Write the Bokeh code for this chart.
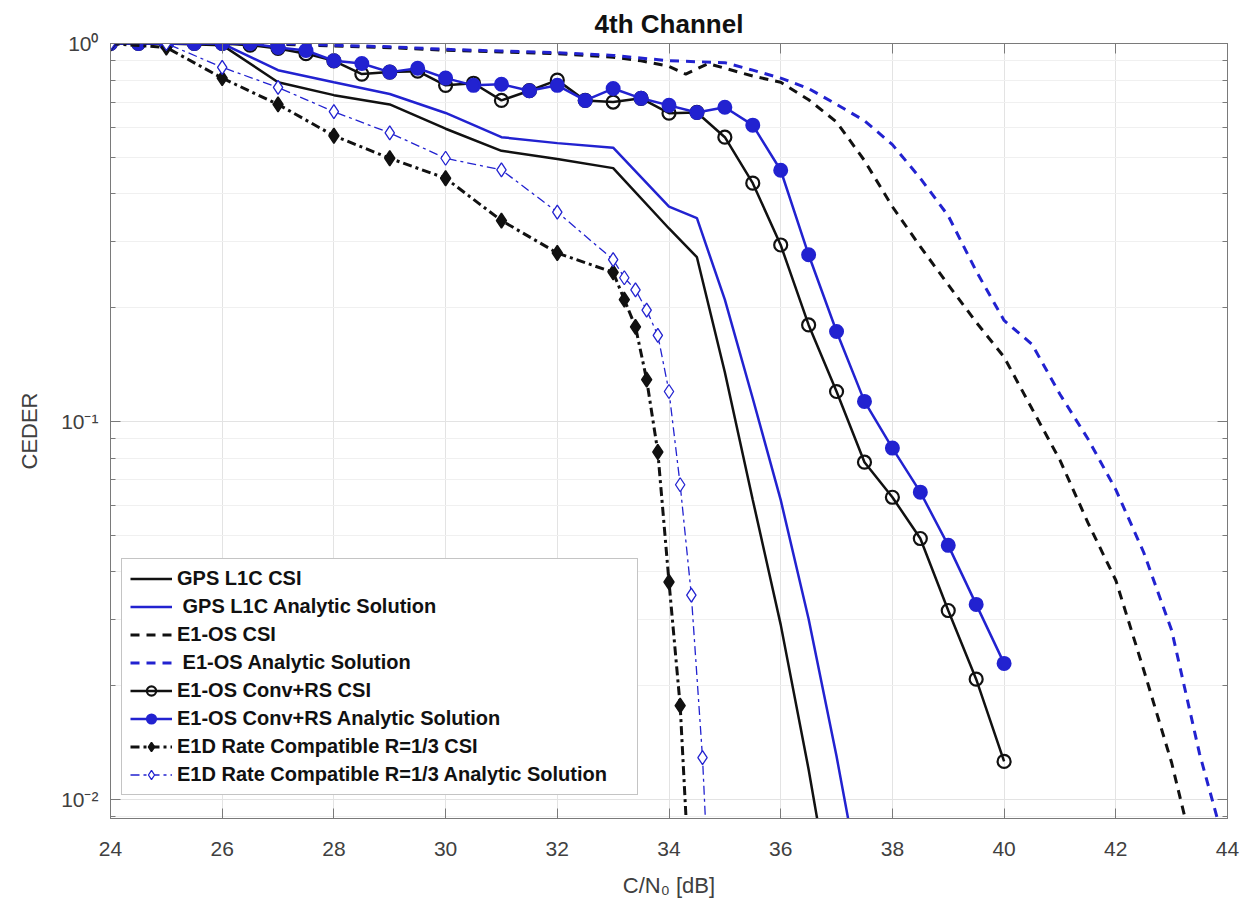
from bokeh.plotting import figure
from bokeh.models import (FixedTicker, LinearAxis, LogAxis, Legend, LegendItem,
                          CustomJSTickFormatter, Range1d)
from bokeh.embed import file_html
from bokeh.resources import INLINE

# ---------------- data ----------------
gps_csi_x = [24, 25, 26, 27, 28, 29, 30, 31, 32, 33, 34, 34.5, 35, 35.5, 36, 36.5, 37]
gps_csi_y = [1.0, 1.0, 0.99, 0.79, 0.73, 0.69, 0.595, 0.52, 0.495, 0.468, 0.324, 0.272,
             0.135, 0.062, 0.029, 0.012, 0.0045]

gps_an_x = [24, 25, 26, 27, 28, 29, 30, 31, 32, 33, 34, 34.5, 35, 35.5, 36, 36.5, 37, 37.5]
gps_an_y = [1.0, 1.0, 1.0, 0.85, 0.79, 0.735, 0.655, 0.565, 0.545, 0.53, 0.37, 0.345,
            0.21, 0.115, 0.062, 0.03, 0.013, 0.0052]

e1os_csi_x = [24, 25, 26, 27, 28, 29, 30, 31, 32, 33, 33.5, 34, 34.3, 34.7, 35, 35.5, 36,
              36.5, 37, 37.5, 38, 38.5, 39, 39.5, 40, 40.5, 41, 41.5, 42, 42.5, 43, 43.5]
e1os_csi_y = [1.0, 1.0, 1.0, 0.995, 0.985, 0.975, 0.96, 0.95, 0.94, 0.92, 0.90, 0.87, 0.83,
              0.885, 0.86, 0.82, 0.79, 0.71, 0.62, 0.49, 0.37, 0.29, 0.23, 0.183, 0.148,
              0.108, 0.079, 0.054, 0.038, 0.022, 0.0125, 0.0062]

e1os_an_x = [24, 25, 26, 27, 28, 29, 30, 31, 32, 33, 34, 34.5, 35, 35.5, 36, 36.5, 37, 37.5,
             38, 38.5, 39, 39.5, 40, 40.5, 41, 41.5, 42, 42.5, 43, 43.5, 44]
e1os_an_y = [1.0, 1.0, 1.0, 1.0, 0.99, 0.98, 0.965, 0.955, 0.945, 0.93, 0.90, 0.895, 0.89,
             0.85, 0.81, 0.76, 0.69, 0.625, 0.54, 0.44, 0.35, 0.25, 0.185, 0.16, 0.118,
             0.09, 0.066, 0.045, 0.028, 0.0132, 0.0071]

conv_x = [24, 24.5, 25, 25.5, 26, 26.5, 27, 27.5, 28, 28.5, 29, 29.5, 30, 30.5, 31, 31.5,
          32, 32.5, 33, 33.5, 34, 34.5, 35, 35.5, 36, 36.5, 37, 37.5, 38, 38.5, 39, 39.5, 40]
conv_csi_y = [1.0, 1.0, 1.0, 1.0, 1.0, 0.99, 0.97, 0.94, 0.90, 0.83, 0.84, 0.845, 0.775,
              0.785, 0.707, 0.75, 0.80, 0.707, 0.70, 0.716, 0.654, 0.657, 0.565, 0.427,
              0.293, 0.18, 0.12, 0.078, 0.063, 0.049, 0.0316, 0.0208, 0.0126]
conv_an_y = [1.0, 1.0, 1.0, 1.0, 1.0, 1.0, 0.976, 0.958, 0.90, 0.885, 0.84, 0.86, 0.81,
             0.775, 0.78, 0.75, 0.775, 0.707, 0.76, 0.716, 0.686, 0.657, 0.678, 0.608,
             0.462, 0.276, 0.173, 0.113, 0.085, 0.065, 0.047, 0.0328, 0.0229]

e1d_csi_x = [24, 25, 26, 27, 28, 29, 30, 31, 32, 33, 33.2, 33.4, 33.6, 33.8, 34, 34.2, 34.4]
e1d_csi_y = [1.0, 0.976, 0.81, 0.69, 0.57, 0.497, 0.44, 0.34, 0.279, 0.248, 0.21, 0.178,
             0.129, 0.083, 0.0376, 0.0177, 0.0048]

e1d_an_x = [24, 25, 26, 27, 28, 29, 30, 31, 32, 33, 33.2, 33.4, 33.6, 33.8, 34, 34.2, 34.4,
            34.6, 34.8]
e1d_an_y = [1.0, 1.0, 0.865, 0.765, 0.66, 0.58, 0.497, 0.463, 0.358, 0.268, 0.24, 0.223,
            0.197, 0.169, 0.12, 0.068, 0.0347, 0.0129, 0.003]

x_ticks = [24, 26, 28, 30, 32, 34, 36, 38, 40, 42, 44]
y_ticks = [0.01, 0.1, 1.0]
y_minor = [m * d for d in (0.001, 0.01, 0.1) for m in range(2, 10)]

labels = ["GPS L1C CSI", " GPS L1C Analytic Solution", "E1-OS CSI", " E1-OS Analytic Solution",
          "E1-OS Conv+RS CSI", "E1-OS Conv+RS Analytic Solution",
          "E1D Rate Compatible R=1/3 CSI", "E1D Rate Compatible R=1/3 Analytic Solution"]

# ---------------- styling ----------------
BLACK = "#111111"
BLUE = "#2222d0"
FONT = "Liberation Sans"
TICK_COL = "#404040"
AX_COL = "#7a7a7a"

p = figure(width=1241, height=909, x_range=Range1d(24, 44), y_range=Range1d(0.0089, 1.0),
           y_axis_type="log", output_backend="svg", toolbar_location=None,
           min_border_left=110, min_border_right=14, min_border_top=43, min_border_bottom=91,
           title="4th Channel", background_fill_color="white", border_fill_color="white")

p.title.text_font = FONT
p.title.text_font_size = "26px"
p.title.text_font_style = "bold"
p.title.align = "center"
p.title.text_color = "#111111"

p.outline_line_color = AX_COL
p.outline_line_width = 1

xt = FixedTicker(ticks=x_ticks)
yt = FixedTicker(ticks=y_ticks, minor_ticks=y_minor)

yfmt = CustomJSTickFormatter(code="""
const e = Math.round(Math.log10(tick));
const m = {"0": "\u2070", "1": "\u00b9", "2": "\u00b2", "-": "\u207b"};
return "10" + String(e).split("").map(c => m[c]).join("");
""")

for ax in p.xaxis:
    ax.ticker = xt
    ax.major_tick_in = 10
    ax.major_tick_out = 0
    ax.minor_tick_in = 0
    ax.minor_tick_out = 0
    ax.axis_line_color = AX_COL
    ax.major_tick_line_color = AX_COL
    ax.major_label_text_font = FONT
    ax.major_label_text_font_size = "21px"
    ax.major_label_text_color = TICK_COL
    ax.major_label_standoff = 23
    ax.axis_label = "C/N\u2080 [dB]"
    ax.axis_label_text_font = FONT
    ax.axis_label_text_font_size = "22px"
    ax.axis_label_text_font_style = "normal"
    ax.axis_label_text_color = TICK_COL
    ax.axis_label_standoff = 14

for ax in p.yaxis:
    ax.ticker = yt
    ax.formatter = yfmt
    ax.major_tick_in = 10
    ax.major_tick_out = 0
    ax.minor_tick_in = 5
    ax.minor_tick_out = 0
    ax.axis_line_color = AX_COL
    ax.major_tick_line_color = AX_COL
    ax.minor_tick_line_color = AX_COL
    ax.major_label_text_font = FONT
    ax.major_label_text_font_size = "21px"
    ax.major_label_text_color = TICK_COL
    ax.major_label_standoff = 12
    ax.axis_label = "CEDER"
    ax.axis_label_text_font = FONT
    ax.axis_label_text_font_size = "22px"
    ax.axis_label_text_font_style = "normal"
    ax.axis_label_text_color = TICK_COL
    ax.axis_label_standoff = 16

# box ticks on the top and right sides (labels hidden)
top_ax = LinearAxis(ticker=xt, major_tick_in=10, major_tick_out=0, minor_tick_in=0,
                    minor_tick_out=0, major_label_text_font_size="1px",
                    major_label_text_color=None, axis_line_color=AX_COL,
                    major_tick_line_color=AX_COL, major_label_standoff=0)
right_ax = LogAxis(ticker=yt, major_tick_in=10, major_tick_out=0, minor_tick_in=5,
                   minor_tick_out=0, major_label_text_font_size="1px",
                   major_label_text_color=None, axis_line_color=AX_COL,
                   major_tick_line_color=AX_COL, minor_tick_line_color=AX_COL,
                   major_label_standoff=0)
p.add_layout(top_ax, "above")
p.add_layout(right_ax, "right")

p.xgrid.ticker = xt
p.xgrid.grid_line_color = "#e3e3e3"
p.ygrid.ticker = yt
p.ygrid.grid_line_color = "#e3e3e3"
p.ygrid.minor_grid_line_color = "#f0f0f0"

# ---------------- series ----------------
r1 = p.line(gps_csi_x, gps_csi_y, line_color=BLACK, line_width=2.5)
r2 = p.line(gps_an_x, gps_an_y, line_color=BLUE, line_width=2.5)
r3 = p.line(e1os_csi_x, e1os_csi_y, line_color=BLACK, line_width=3, line_dash="9 7")
r4 = p.line(e1os_an_x, e1os_an_y, line_color=BLUE, line_width=3, line_dash="9 7")
r5l = p.line(conv_x, conv_csi_y, line_color=BLACK, line_width=2.5)
r5m = p.scatter(conv_x, conv_csi_y, marker="circle", size=13, line_color=BLACK,
                line_width=2.2, fill_color=None)
r6l = p.line(conv_x, conv_an_y, line_color=BLUE, line_width=2.5)
r6m = p.scatter(conv_x, conv_an_y, marker="circle", size=13, line_color=BLUE,
                line_width=2, fill_color=BLUE)
r7l = p.line(e1d_csi_x, e1d_csi_y, line_color=BLACK, line_width=3, line_dash="9 4 3 4")
r7m = p.scatter(e1d_csi_x, e1d_csi_y, marker="diamond", size=15, line_color=BLACK,
                line_width=1.5, fill_color=BLACK)
r8l = p.line(e1d_an_x, e1d_an_y, line_color=BLUE, line_width=1.3, line_dash="9 4 3 4")
r8m = p.scatter(e1d_an_x, e1d_an_y, marker="diamond", size=14, line_color=BLUE,
                line_width=1.3, fill_color="white")

items = [
    LegendItem(label=labels[0], renderers=[r1]),
    LegendItem(label=labels[1], renderers=[r2]),
    LegendItem(label=labels[2], renderers=[r3]),
    LegendItem(label=labels[3], renderers=[r4]),
    LegendItem(label=labels[4], renderers=[r5l, r5m]),
    LegendItem(label=labels[5], renderers=[r6l, r6m]),
    LegendItem(label=labels[6], renderers=[r7l, r7m]),
    LegendItem(label=labels[7], renderers=[r8l, r8m]),
]
legend = Legend(items=items, location=(11, 23), label_text_font=FONT,
                label_text_font_size="20px", label_text_font_style="bold",
                label_text_color="#111111", glyph_width=42, glyph_height=23,
                label_height=23, label_width=452, label_standoff=5, spacing=5,
                padding=8, margin=0, border_line_color="#8a8a8a", border_line_width=1,
                background_fill_color="white", background_fill_alpha=1.0)
p.add_layout(legend)

open("out.html", "w").write(file_html(p, INLINE))
